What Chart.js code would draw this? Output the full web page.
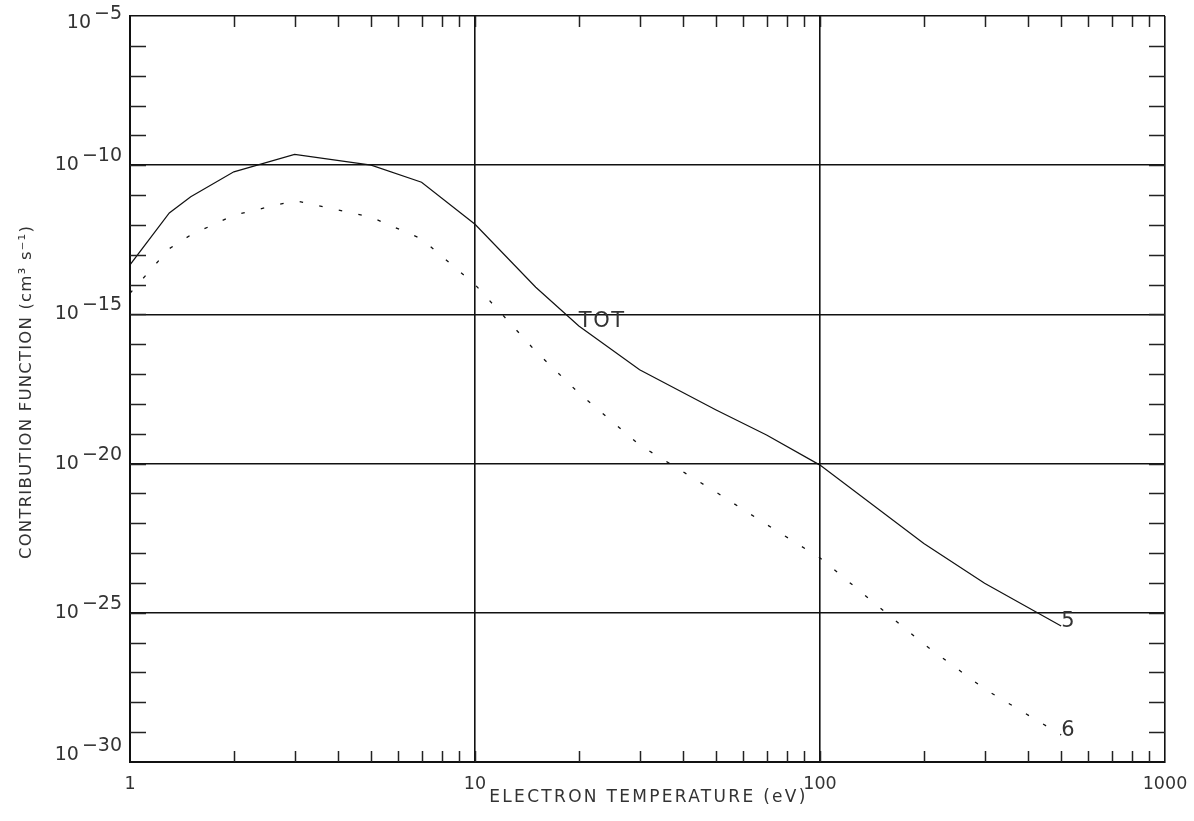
<!DOCTYPE html>
<html>
<head>
<meta charset="utf-8">
<script src="https://cdn.jsdelivr.net/npm/chart.js@4/dist/chart.umd.min.js"></script>
<style>
  html, body { margin: 0; padding: 0; background: #ffffff; }
  #wrap { width: 1194px; height: 821px; }
</style>
</head>
<body>
<div id="wrap"><canvas id="c" width="1194" height="821"></canvas></div>
<script>
// ---- data ----
const temperatures = [1, 1.3, 1.5, 2, 3, 5, 7, 10, 15, 20, 30, 50, 70, 100, 200, 300, 500];
const series5 = [4.6e-14, 2.5e-12, 8.7e-12, 6.0e-11, 2.3e-10, 1.0e-10, 2.7e-11, 1.05e-12, 8.1e-15, 4.1e-16, 1.4e-17, 6.3e-19, 9.1e-20, 8.9e-21, 2.1e-23, 9.8e-25, 3.6e-26];
const series6 = [5.1e-15, 1.6e-13, 4.6e-13, 2.1e-12, 6.5e-12, 1.8e-12, 3.4e-13, 1.0e-14, 5.8e-17, 2.3e-18, 4.2e-20, 1.1e-21, 9.1e-23, 6.9e-24, 8.9e-27, 2.8e-28, 8.1e-30];
const xTickLabels = ['1', '10', '100', '1000'];
const yLabelExponents = [-5, -10, -15, -20, -25, -30];
const xTitle = 'ELECTRON TEMPERATURE (eV)';
const yTitle = 'CONTRIBUTION FUNCTION (cm³ s⁻¹)';
const curveLabels = [
  { text: 'TOT', series: 'series5', at: 20 },
  { text: '5', series: 'series5', at: 500 },
  { text: '6', series: 'series6', at: 500 }
];

const FONT = '"DejaVu Sans", "Liberation Sans", sans-serif';
const TEXT = '#333';
const seriesMap = { series5, series6 };

function isPow10(v) {
  const l = Math.log10(v);
  return Math.abs(l - Math.round(l)) < 1e-9;
}

const annot = {
  id: 'annot',
  afterDraw(chart) {
    const { ctx, chartArea: a, scales: { x, y } } = chart;
    ctx.save();
    // inward tick marks on all four sides
    ctx.strokeStyle = '#222';
    ctx.lineWidth = 1.5;
    ctx.beginPath();
    x.ticks.forEach(t => {
      const px = Math.round(x.getPixelForValue(t.value)) + 0.5;
      if (px <= a.left + 2 || px >= a.right - 2) return;
      ctx.moveTo(px, a.bottom); ctx.lineTo(px, a.bottom - 11);
      ctx.moveTo(px, a.top); ctx.lineTo(px, a.top + 11);
    });
    y.ticks.forEach(t => {
      const py = Math.round(y.getPixelForValue(t.value)) + 0.5;
      if (py <= a.top + 2 || py >= a.bottom - 2) return;
      ctx.moveTo(a.left, py); ctx.lineTo(a.left + 16, py);
      ctx.moveTo(a.right, py); ctx.lineTo(a.right - 16, py);
    });
    ctx.stroke();

    // y tick labels: 10 with exponent
    ctx.fillStyle = TEXT;
    ctx.font = '19px ' + FONT;
    ctx.textBaseline = 'middle';
    ctx.textAlign = 'right';
    yLabelExponents.forEach(e => {
      let py = y.getPixelForValue(Number('1e' + e));
      py = Math.min(Math.max(py, a.top + 7), a.bottom - 7);
      const exp = '\u2212' + Math.abs(e);
      const xr = a.left - 8;
      ctx.fillText(exp, xr, py - 9);
      const w = ctx.measureText(exp).width;
      ctx.fillText('10', xr - w - 3, py);
    });

    // axis titles
    ctx.font = '17px ' + FONT;
    ctx.letterSpacing = '2.3px';
    ctx.textAlign = 'center';
    ctx.textBaseline = 'middle';
    ctx.fillText(xTitle, (a.left + a.right) / 2 + 1, 798);
    ctx.save();
    ctx.font = '16.5px ' + FONT;
    ctx.letterSpacing = '1.2px';
    ctx.translate(27, (a.top + a.bottom) / 2 + 3);
    ctx.rotate(-Math.PI / 2);
    ctx.fillText(yTitle, 0, 0);
    ctx.restore();

    // curve labels, anchored at data points
    ctx.letterSpacing = '1.5px';
    ctx.font = '21px ' + FONT;
    ctx.textAlign = 'left';
    ctx.textBaseline = 'alphabetic';
    curveLabels.forEach(l => {
      const idx = temperatures.indexOf(l.at);
      const vals = seriesMap[l.series];
      const px = x.getPixelForValue(temperatures[idx]);
      const py = y.getPixelForValue(vals[idx]);
      ctx.fillText(l.text, px, py + 1);
    });
    ctx.restore();
  }
};

const xTickValues = [];
[1, 10, 100].forEach(d => { for (let k = 1; k < 10; k++) xTickValues.push(k * d); });
xTickValues.push(1000);
const yTickValues = [];
for (let e = -30; e <= -5; e++) yTickValues.push(Number('1e' + e));

new Chart(document.getElementById('c'), {
  type: 'line',
  data: {
    datasets: [
      {
        label: '5',
        data: temperatures.map((t, i) => ({ x: t, y: series5[i] })),
        borderColor: '#111',
        borderWidth: 1.2,
        pointRadius: 0,
        tension: 0,
        fill: false
      },
      {
        label: '6',
        data: temperatures.map((t, i) => ({ x: t, y: series6[i] })),
        borderColor: '#111',
        borderWidth: 1.3,
        borderDash: [3.5, 16.5],
        pointRadius: 0,
        tension: 0,
        fill: false
      }
    ]
  },
  options: {
    responsive: false,
    animation: false,
    events: [],
    layout: { padding: { top: 16, right: 29, left: 0, bottom: 0 } },
    plugins: { legend: { display: false }, tooltip: { enabled: false }, title: { display: false } },
    scales: {
      x: {
        type: 'logarithmic',
        min: 1,
        max: 1000,
        afterBuildTicks: s => { s.ticks = xTickValues.map(v => ({ value: v })); },
        afterFit: s => { s.height = 59; s.paddingLeft = 0; s.paddingRight = 0; },
        grid: {
          drawTicks: false,
          lineWidth: 1.6,
          color: c => (c.tick && isPow10(c.tick.value)) ? '#111' : 'rgba(0,0,0,0)'
        },
        border: { display: true, color: '#111', width: 2 },
        ticks: {
          autoSkip: false,
          maxRotation: 0,
          padding: 12,
          color: TEXT,
          font: { family: FONT, size: 17.5 },
          callback: v => {
            if (!isPow10(v)) return '';
            return xTickLabels[Math.round(Math.log10(v))];
          }
        }
      },
      y: {
        type: 'logarithmic',
        min: 1e-30,
        max: 1e-5,
        afterBuildTicks: s => { s.ticks = yTickValues.map(v => ({ value: v })); },
        afterFit: s => { s.width = 130; s.paddingTop = 0; s.paddingBottom = 0; },
        grid: {
          drawTicks: false,
          lineWidth: 1.6,
          color: c => {
            if (!c.tick) return 'rgba(0,0,0,0)';
            const e = Math.round(Math.log10(c.tick.value));
            return (e % 5 === 0) ? '#111' : 'rgba(0,0,0,0)';
          }
        },
        border: { display: true, color: '#111', width: 2 },
        ticks: { display: false }
      }
    }
  },
  plugins: [annot]
});
</script>
</body>
</html>
